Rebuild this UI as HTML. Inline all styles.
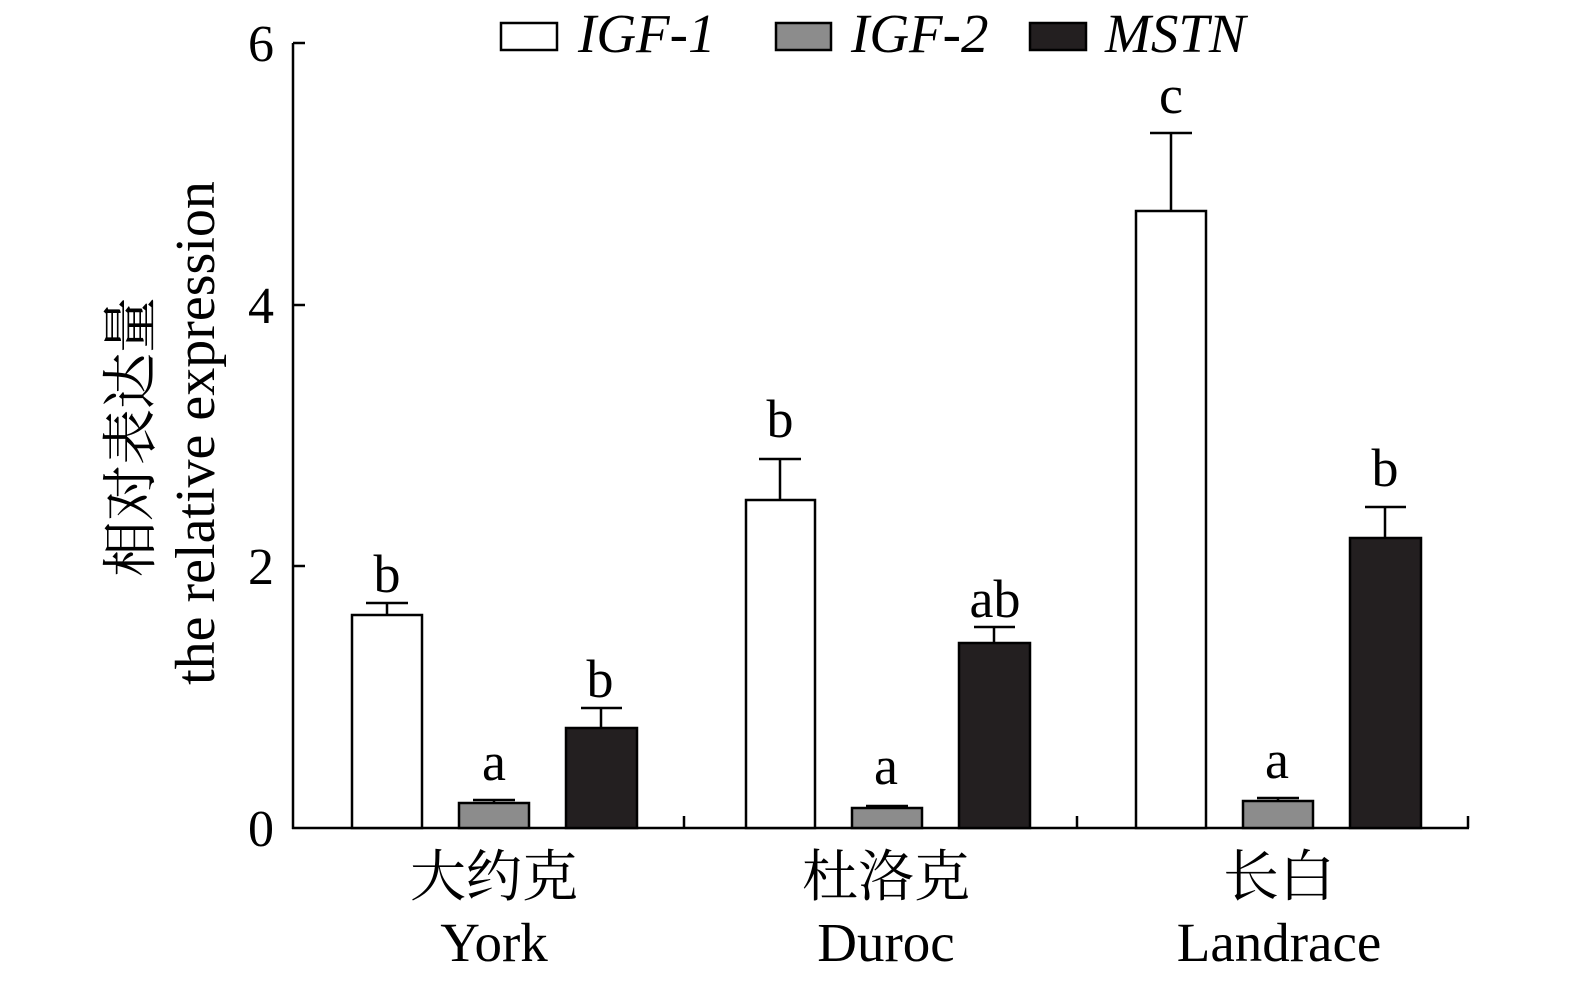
<!DOCTYPE html>
<html><head><meta charset="utf-8"><style>body{margin:0;background:#fff}</style></head><body>
<svg width="1575" height="987" xmlns="http://www.w3.org/2000/svg" style="font-family:'Liberation Serif','Noto Serif CJK SC',serif">
<g stroke="#000" stroke-width="2.5" fill="none">
<line x1="293" y1="43" x2="293" y2="829"/>
<line x1="292" y1="828" x2="1469" y2="828"/>
<line x1="293" y1="43" x2="305" y2="43"/><line x1="293" y1="305" x2="305" y2="305"/><line x1="293" y1="566" x2="305" y2="566"/>
<line x1="684" y1="828" x2="684" y2="816"/><line x1="1077" y1="828" x2="1077" y2="816"/><line x1="1468" y1="828" x2="1468" y2="816"/>
<path d="M387 615V603M366 603H408"/>
<path d="M494 803V800M473 800H515"/>
<path d="M601 728V708M581 708H622"/>
<path d="M780 500V459M759 459H801"/>
<path d="M887 808V806M866 806H908"/>
<path d="M994 643V627M974 627H1015"/>
<path d="M1171 211V133M1150 133H1192"/>
<path d="M1278 801V798M1257 798H1299"/>
<path d="M1385 538V507M1365 507H1406"/>
</g>
<g stroke="#000" stroke-width="2.5">
<rect x="352" y="615" width="70" height="213" fill="#fff"/>
<rect x="459" y="803" width="70" height="25" fill="#8c8c8c"/>
<rect x="566" y="728" width="71" height="100" fill="#231f20"/>
<rect x="746" y="500" width="69" height="328" fill="#fff"/>
<rect x="852" y="808" width="70" height="20" fill="#8c8c8c"/>
<rect x="959" y="643" width="71" height="185" fill="#231f20"/>
<rect x="1136" y="211" width="70" height="617" fill="#fff"/>
<rect x="1243" y="801" width="70" height="27" fill="#8c8c8c"/>
<rect x="1350" y="538" width="71" height="290" fill="#231f20"/>
<rect x="501" y="23" width="56" height="27" fill="#fff"/>
<rect x="776" y="23" width="55" height="27" fill="#8c8c8c"/>
<rect x="1030" y="23" width="56" height="27" fill="#231f20"/>
</g>
<g font-size="55" font-style="italic">
<text x="578" y="52">IGF-1</text><text x="851" y="52">IGF-2</text><text x="1105" y="52">MSTN</text>
</g>
<g font-size="52" text-anchor="end">
<text x="274" y="61">6</text><text x="274" y="323">4</text><text x="274" y="584">2</text><text x="274" y="846">0</text>
</g>
<g font-size="54" text-anchor="middle">
<text x="387" y="592">b</text><text x="494" y="780">a</text><text x="600" y="697">b</text>
<text x="780" y="437">b</text><text x="886" y="784">a</text><text x="995" y="617">ab</text>
<text x="1171" y="113">c</text><text x="1277" y="778">a</text><text x="1385" y="486">b</text>
</g>
<g font-size="56" text-anchor="middle">
<text x="494" y="896">大约克</text><text x="886" y="896">杜洛克</text><text x="1279" y="896">长白</text>
</g>
<g font-size="55" text-anchor="middle">
<text x="494" y="961">York</text><text x="886" y="961">Duroc</text><text x="1279" y="961">Landrace</text>
</g>
<g font-size="56" text-anchor="middle">
<text transform="translate(150,437) rotate(-90)">相对表达量</text>
<text transform="translate(214,433) rotate(-90)">the relative expression</text>
</g>
</svg>
</body></html>
